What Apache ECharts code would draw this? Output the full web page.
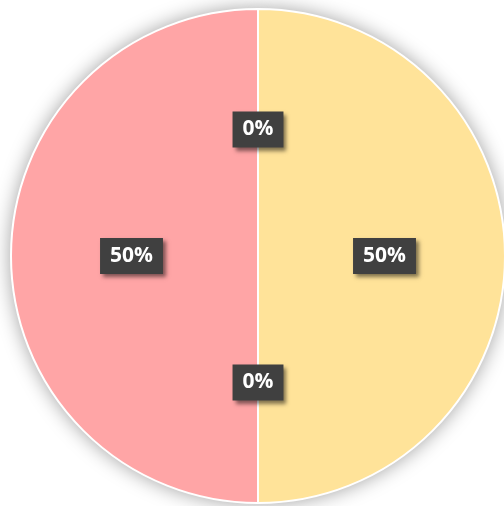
<!DOCTYPE html>
<html>
<head>
    <meta charset="utf-8">
    <script src="https://cdn.jsdelivr.net/npm/echarts@6/dist/echarts.min.js"></script>
</head>
<body style="margin:0">
	<div id="main" style="width:504px; height:506px;"></div>
	<script type="text/javascript">
		var names = ["A", "B", "C", "D"]
		var values = [0, 50, 0, 50]
		var colors = ["#9dc3e6", "#ffe399", "#a9d18e", "#ffa5a6"]

		var data = []
		for (var i = 0; i < names.length; i++) {
			data.push({name: names[i], value: values[i], itemStyle: {color: colors[i]}})
		}

		var myChart = echarts.init(document.getElementById('main'))
		var option = {
			animation: false,
			series: [{
				// shadow underneath the whole pie
				type: 'pie',
				silent: true,
				center: [258, 256],
				radius: 247,
				startAngle: 90,
				data: data,
				z: 1,
				itemStyle: {
					shadowBlur: 20,
					shadowColor: 'rgba(0,0,0,0.4)'
				},
				label: {show: false},
				labelLine: {show: false}
			}, {
				type: 'pie',
				center: [258, 256],
				radius: 247,
				startAngle: 90,
				clockwise: true,
				percentPrecision: 0,
				avoidLabelOverlap: false,
				data: data,
				z: 2,
				itemStyle: {
					borderColor: '#fff',
					borderWidth: 2
				},
				label: {
					show: true,
					position: 'inside',
					formatter: '{d}%',
					color: '#fff',
					fontFamily: 'Open Sans',
					fontWeight: 'bold',
					fontSize: 21,
					lineHeight: 26,
					backgroundColor: '#404040',
					padding: [5, 10, 5, 10],
					shadowBlur: 4,
					shadowOffsetX: 3,
					shadowOffsetY: 3,
					shadowColor: 'rgba(0,0,0,0.5)'
				},
				labelLine: {show: false}
			}]
		}
		myChart.setOption(option)
	</script>
</body>
</html>
